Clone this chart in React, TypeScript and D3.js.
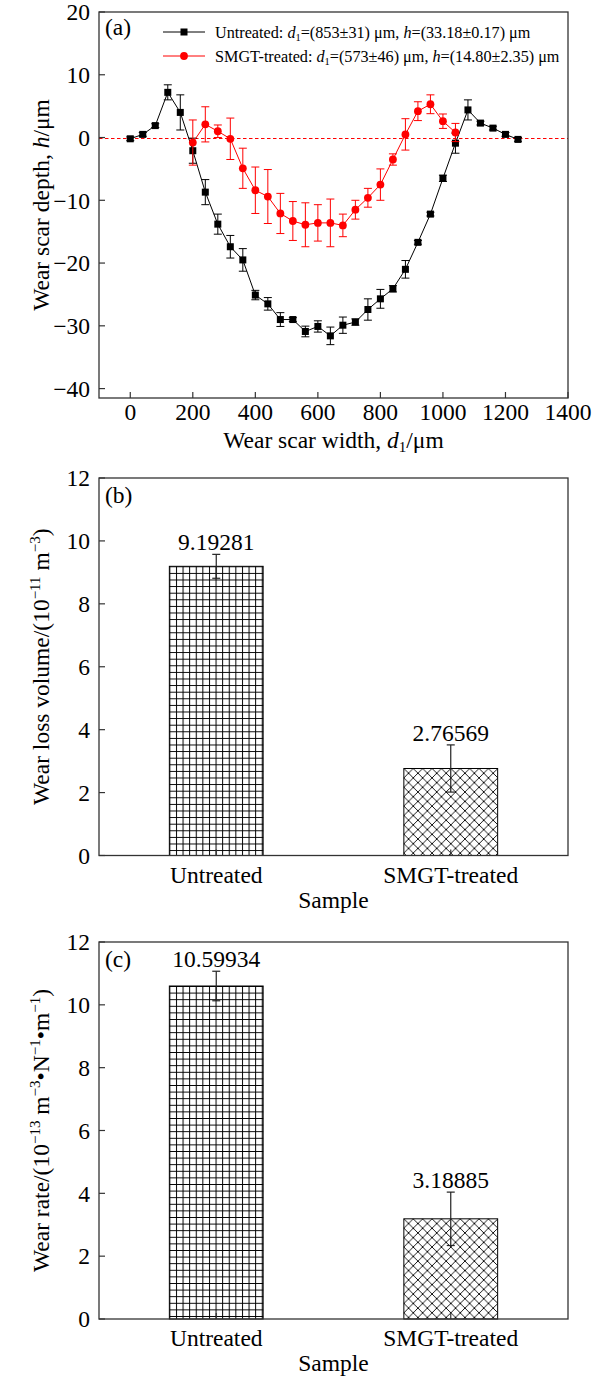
import React from 'react';
import * as d3 from 'd3';

// Wear scar profile (panel a)
const untreatedWidth = [0, 40, 80, 120, 160, 200, 240, 280, 320, 360, 400, 440, 480, 520, 560, 600, 640, 680, 720, 760, 800, 840, 880, 920, 960, 1000, 1040, 1080, 1120, 1160, 1200, 1240];
const untreatedDepth = [-0.2, 0.5, 1.9, 7.2, 4.0, -2.1, -8.7, -13.8, -17.4, -19.5, -25.1, -26.5, -29.0, -29.0, -30.9, -30.1, -31.6, -29.9, -29.4, -27.4, -25.7, -24.1, -21.0, -16.7, -12.2, -6.5, -0.9, 4.4, 2.3, 1.5, 0.5, -0.3];
const untreatedErr = [0.3, 0.3, 0.3, 1.2, 2.8, 2.0, 2.0, 1.6, 1.8, 1.8, 0.75, 1.0, 1.1, 0.3, 0.85, 0.9, 1.4, 1.3, 0.5, 1.7, 1.5, 0.5, 1.4, 0.3, 0.3, 0.5, 1.6, 1.6, 0.3, 0.3, 0.3, 0.3];

const smgtWidth = [200, 240, 280, 320, 360, 400, 440, 480, 520, 560, 600, 640, 680, 720, 760, 800, 840, 880, 920, 960, 1000, 1040];
const smgtDepth = [-0.8, 2.1, 1.0, -0.2, -4.9, -8.4, -9.4, -12.1, -13.3, -13.9, -13.6, -13.6, -14.0, -11.5, -9.6, -7.5, -3.5, 0.5, 4.2, 5.3, 2.6, 0.8];
const smgtErr = [3.6, 2.8, 1.0, 3.3, 3.2, 3.7, 4.3, 3.2, 3.1, 3.5, 2.9, 3.8, 1.8, 1.5, 1.5, 2.5, 0.9, 2.5, 1.5, 1.5, 1.15, 1.45];

const xTicksA = [0, 200, 400, 600, 800, 1000, 1200, 1400];
const yTicksA = [-40, -30, -20, -10, 0, 10, 20];

// Wear loss volume and wear rate (panels b, c)
const samples = ['Untreated', 'SMGT-treated'];
const lossVolume = [9.19281, 2.76569];
const lossVolumeErr = [0.38, 0.75];
const wearRate = [10.59934, 3.18885];
const wearRateErr = [0.47, 0.85];
const yTicksBar = [0, 2, 4, 6, 8, 10, 12];

const FONT = '"Liberation Serif", "Times New Roman", "DejaVu Serif", serif';
const AXIS = '#333';
const LEFT = 99;
const RIGHT = 568;
const TICK = 6;
const FS = 23.5;

const fmt = d3.format('');

function Frame({ top, bottom }: { top: number; bottom: number }) {
  return <rect x={LEFT} y={top} width={RIGHT - LEFT} height={bottom - top} fill="none" stroke={AXIS} strokeWidth={1.3} />;
}

function YTicks({ y, ticks }: { y: d3.ScaleLinear<number, number>; ticks: number[] }) {
  return (
    <g>
      {ticks.map((t) => (
        <g key={t}>
          <line x1={LEFT} x2={LEFT + TICK} y1={y(t)} y2={y(t)} stroke={AXIS} strokeWidth={1.2} />
          <text x={LEFT - 9} y={y(t)} dy="0.35em" textAnchor="end" fontSize={FS}>{fmt(t)}</text>
        </g>
      ))}
    </g>
  );
}

function ProfilePanel() {
  const top = 12;
  const bottom = 398;
  const x = d3.scaleLinear().domain([-100, 1400]).range([LEFT, RIGHT]);
  const y = d3.scaleLinear().domain([-41.5, 20]).range([bottom, top]);
  const pathOf = d3.line<[number, number]>().x((d) => x(d[0])).y((d) => y(d[1]));
  const untreatedPath = pathOf(untreatedWidth.map((w, i) => [w, untreatedDepth[i]]));
  const smgtPath = pathOf(smgtWidth.map((w, i) => [w, smgtDepth[i]]));
  const cap = 4;
  const red = '#ff0000';
  const zeroY = Math.round(y(0)) + 0.5;
  return (
    <g>
      <line x1={LEFT} x2={RIGHT} y1={zeroY} y2={zeroY} stroke={red} strokeWidth={1.1} strokeDasharray="3.5,2.5" />
      {/* untreated */}
      <path d={untreatedPath || ''} fill="none" stroke="#000" strokeWidth={1} />
      {untreatedWidth.map((w, i) => {
        const cx = x(w);
        const y1 = y(untreatedDepth[i] + untreatedErr[i]);
        const y2 = y(untreatedDepth[i] - untreatedErr[i]);
        return (
          <g key={'u' + i} stroke="#000" strokeWidth={1}>
            <line x1={cx} x2={cx} y1={y1} y2={y2} />
            <line x1={cx - cap} x2={cx + cap} y1={y1} y2={y1} />
            <line x1={cx - cap} x2={cx + cap} y1={y2} y2={y2} />
          </g>
        );
      })}
      {untreatedWidth.map((w, i) => (
        <rect key={'us' + i} x={x(w) - 3.5} y={y(untreatedDepth[i]) - 3.5} width={7} height={7} fill="#000" />
      ))}
      {/* SMGT-treated */}
      <path d={smgtPath || ''} fill="none" stroke={red} strokeWidth={1} />
      {smgtWidth.map((w, i) => {
        const cx = x(w);
        const y1 = y(smgtDepth[i] + smgtErr[i]);
        const y2 = y(smgtDepth[i] - smgtErr[i]);
        return (
          <g key={'s' + i} stroke={red} strokeWidth={1}>
            <line x1={cx} x2={cx} y1={y1} y2={y2} />
            <line x1={cx - cap} x2={cx + cap} y1={y1} y2={y1} />
            <line x1={cx - cap} x2={cx + cap} y1={y2} y2={y2} />
          </g>
        );
      })}
      {smgtWidth.map((w, i) => (
        <circle key={'sc' + i} cx={x(w)} cy={y(smgtDepth[i])} r={3.9} fill={red} />
      ))}

      <Frame top={top} bottom={bottom} />
      <YTicks y={y} ticks={yTicksA} />
      {xTicksA.map((t) => (
        <g key={t}>
          <line x1={x(t)} x2={x(t)} y1={bottom} y2={bottom - TICK} stroke={AXIS} strokeWidth={1.2} />
          <text x={x(t)} y={bottom + 22} textAnchor="middle" fontSize={FS}>{fmt(t)}</text>
        </g>
      ))}

      <text x={105} y={35} fontSize={FS}>(a)</text>

      {/* legend */}
      <line x1={163} x2={205} y1={32} y2={32} stroke="#000" strokeWidth={1} />
      <rect x={184 - 3.5} y={32 - 3.5} width={7} height={7} fill="#000" />
      <text x={215} y={37.5} fontSize={16.2}>
        Untreated: <tspan fontStyle="italic">d</tspan><tspan fontSize={10.5} dy={3}>1</tspan><tspan dy={-3}>=(853±31) μm, </tspan><tspan fontStyle="italic">h</tspan>=(33.18±0.17) μm
      </text>
      <line x1={163} x2={205} y1={56} y2={56} stroke={red} strokeWidth={1} />
      <circle cx={184} cy={56} r={3.9} fill={red} />
      <text x={215} y={61.5} fontSize={16.2}>
        SMGT-treated: <tspan fontStyle="italic">d</tspan><tspan fontSize={10.5} dy={3}>1</tspan><tspan dy={-3}>=(573±46) μm, </tspan><tspan fontStyle="italic">h</tspan>=(14.80±2.35) μm
      </text>

      <text x={(LEFT + RIGHT) / 2} y={448} textAnchor="middle" fontSize={FS}>
        Wear scar width, <tspan fontStyle="italic">d</tspan><tspan fontSize={15} dy={4}>1</tspan><tspan dy={-4}>/μm</tspan>
      </text>
      <text transform={`translate(49,${(top + bottom) / 2}) rotate(-90)`} textAnchor="middle" fontSize={FS}>
        Wear scar depth, <tspan fontStyle="italic">h</tspan>/μm
      </text>
    </g>
  );
}

function BarPanel({
  id, top, bottom, values, errors, label, title,
}: {
  id: string; top: number; bottom: number; values: number[]; errors: number[]; label: string; title: React.ReactNode;
}) {
  const x = d3.scaleLinear().domain([0.5, 2.5]).range([LEFT, RIGHT]);
  const y = d3.scaleLinear().domain([0, 12]).range([bottom, top]);
  const bw = x(1.2) - x(0.8);
  const cap = 4;
  return (
    <g>
      <defs>
        {values.map((v, i) => {
          const bx = x(i + 1) - bw / 2;
          const by = y(v);
          return i === 0 ? (
            <pattern key={i} id={`${id}-p${i}`} patternUnits="userSpaceOnUse" x={bx} y={by} width={6.6} height={6.6}>
              <rect width={6.6} height={6.6} fill="#fff" />
              <path d="M0 0.5 H6.6 M0.5 0 V6.6" stroke="#000" strokeWidth={1} />
            </pattern>
          ) : (
            <pattern key={i} id={`${id}-p${i}`} patternUnits="userSpaceOnUse" x={bx} y={by} width={9.4} height={9.4}>
              <rect width={9.4} height={9.4} fill="#fff" />
              <path d="M0 0 L9.4 9.4 M9.4 0 L0 9.4" stroke="#000" strokeWidth={0.9} />
            </pattern>
          );
        })}
      </defs>
      {values.map((v, i) => {
        const cx = x(i + 1);
        const y1 = y(v + errors[i]);
        const y2 = y(v - errors[i]);
        return (
          <g key={i}>
            <rect x={cx - bw / 2} y={y(v)} width={bw} height={y(0) - y(v)} fill={`url(#${id}-p${i})`} stroke="#000" strokeWidth={1} />
            <g stroke="#222" strokeWidth={1.2}>
              <line x1={cx} x2={cx} y1={y1} y2={y2} />
              <line x1={cx - cap} x2={cx + cap} y1={y1} y2={y1} />
              <line x1={cx - cap} x2={cx + cap} y1={y2} y2={y2} />
            </g>
            <text x={cx} y={y1 - 4} textAnchor="middle" fontSize={FS}>{v.toFixed(5)}</text>
          </g>
        );
      })}
      <Frame top={top} bottom={bottom} />
      <YTicks y={y} ticks={yTicksBar} />
      {samples.map((s, i) => (
        <g key={s}>
          <line x1={x(i + 1)} x2={x(i + 1)} y1={bottom} y2={bottom - TICK} stroke={AXIS} strokeWidth={1.2} />
          <text x={x(i + 1)} y={bottom + 27} textAnchor="middle" fontSize={FS}>{s}</text>
        </g>
      ))}
      <text x={(LEFT + RIGHT) / 2} y={bottom + 52} textAnchor="middle" fontSize={FS}>Sample</text>
      <text x={105} y={top + 25} fontSize={FS}>{label}</text>
      <text transform={`translate(49,${(top + bottom) / 2}) rotate(-90)`} textAnchor="middle" fontSize={FS}>
        {title}
      </text>
    </g>
  );
}

export default function App() {
  return (
    <svg
      width={595}
      height={1376}
      viewBox="0 0 595 1376"
      style={{ position: 'absolute', left: 0, top: 0, background: '#fff' }}
      fontFamily={FONT}
    >
      <rect width={595} height={1376} fill="#fff" />
      <ProfilePanel />
      <BarPanel
        id="vol"
        top={478}
        bottom={855.5}
        values={lossVolume}
        errors={lossVolumeErr}
        label="(b)"
        title={
          <>
            Wear loss volume/(10<tspan fontSize={15} dy={-9}>−11</tspan>
            <tspan dy={9}> m</tspan><tspan fontSize={15} dy={-9}>−3</tspan><tspan dy={9}>)</tspan>
          </>
        }
      />
      <BarPanel
        id="rate"
        top={942}
        bottom={1319}
        values={wearRate}
        errors={wearRateErr}
        label="(c)"
        title={
          <>
            Wear rate/(10<tspan fontSize={15} dy={-9}>−13</tspan>
            <tspan dy={9}> m</tspan><tspan fontSize={15} dy={-9}>−3</tspan>
            <tspan dy={9}>•N</tspan><tspan fontSize={15} dy={-9}>−1</tspan>
            <tspan dy={9}>•m</tspan><tspan fontSize={15} dy={-9}>−1</tspan><tspan dy={9}>)</tspan>
          </>
        }
      />
    </svg>
  );
}
